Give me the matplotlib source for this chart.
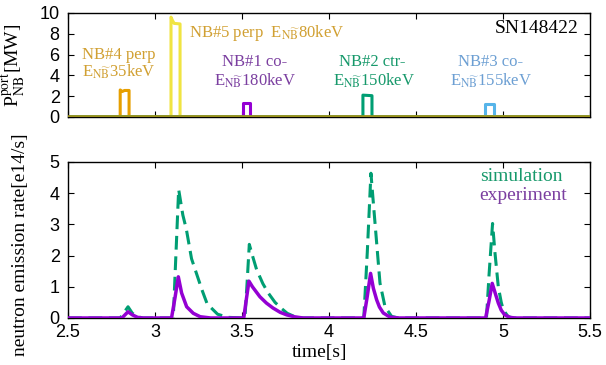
import numpy as np
import matplotlib
matplotlib.use("Agg")
import matplotlib.pyplot as plt

plt.rcParams['font.family'] = ['Liberation Serif', 'DejaVu Serif']
plt.rcParams['mathtext.fontset'] = 'stix'

# --- NBI port-through power [MW] (rectangular pulses) ---
nb4_t = [2.5, 2.800, 2.800, 2.812, 2.825, 2.851, 2.851, 5.5]
nb4_p = [0.0, 0.0, 2.60, 2.45, 2.55, 2.55, 0.0, 0.0]
nb5_t = [2.5, 3.092, 3.092, 3.100, 3.110, 3.144, 3.144, 5.5]
nb5_p = [0.0, 0.0, 9.60, 9.30, 9.00, 8.95, 0.0, 0.0]
nb1_t = [2.5, 3.506, 3.506, 3.546, 3.546, 5.5]
nb1_p = [0.0, 0.0, 1.35, 1.35, 0.0, 0.0]
nb2_t = [2.5, 4.195, 4.195, 4.247, 4.247, 5.5]
nb2_p = [0.0, 0.0, 2.10, 2.05, 0.0, 0.0]
nb3_t = [2.5, 4.896, 4.896, 4.948, 4.948, 5.5]
nb3_p = [0.0, 0.0, 1.25, 1.25, 0.0, 0.0]

# --- neutron emission rate [e14/s] ---
sim_t = [2.5, 2.80, 2.845, 2.87, 2.90, 2.93,
         3.105, 3.12, 3.136, 3.16, 3.18, 3.21, 3.24, 3.27, 3.30, 3.36, 3.42,
         3.517, 3.53, 3.542, 3.56, 3.584, 3.62, 3.651, 3.69, 3.728, 3.76, 3.80, 3.85,
         4.20, 4.22, 4.241, 4.255, 4.274, 4.293, 4.322, 4.36, 4.40,
         4.905, 4.92, 4.94, 4.954, 4.973, 4.99, 5.002, 5.03, 5.06, 5.5]
sim_v = [0.0, 0.0, 0.36, 0.15, 0.04, 0.0,
         0.0, 2.0, 4.12, 3.30, 2.85, 1.90, 1.40, 0.90, 0.45, 0.12, 0.02,
         0.0, 1.20, 2.36, 2.00, 1.55, 1.10, 0.80, 0.50, 0.30, 0.15, 0.05, 0.0,
         0.0, 2.10, 4.64, 3.68, 2.40, 1.12, 0.36, 0.05, 0.0,
         0.0, 1.40, 3.03, 2.08, 1.00, 0.50, 0.26, 0.04, 0.0, 0.0]
exp_t = [2.5, 2.81, 2.845, 2.87, 2.90, 2.93,
         3.095, 3.115, 3.134, 3.153, 3.182, 3.22, 3.26, 3.32,
         3.51, 3.525, 3.54, 3.56, 3.603, 3.64, 3.678, 3.72, 3.757, 3.80, 3.85,
         4.20, 4.22, 4.239, 4.255, 4.274, 4.29, 4.312, 4.35, 4.40,
         4.90, 4.92, 4.938, 4.955, 4.973, 4.99, 5.01, 5.04, 5.07, 5.5]
exp_v = [0.0, 0.0, 0.20, 0.10, 0.02, 0.0,
         0.0, 0.65, 1.32, 0.80, 0.36, 0.15, 0.04, 0.0,
         0.0, 0.60, 1.18, 1.00, 0.68, 0.48, 0.32, 0.18, 0.10, 0.04, 0.0,
         0.0, 0.70, 1.43, 0.95, 0.58, 0.35, 0.16, 0.03, 0.0,
         0.0, 0.55, 1.11, 0.80, 0.48, 0.25, 0.10, 0.02, 0.0, 0.0]

xticks = [2.5, 3, 3.5, 4, 4.5, 5, 5.5]
xticklabels = ['2.5', '3', '3.5', '4', '4.5', '5', '5.5']

fig = plt.figure(figsize=(6.06, 3.65), dpi=100)
ax1 = fig.add_axes([0.1122, 0.6795, 0.8614, 0.2849])
ax2 = fig.add_axes([0.1122, 0.1288, 0.8614, 0.4274])

for ax in (ax1, ax2):
    ax.tick_params(direction='in', top=True, right=True, length=4, width=0.8,
                   labelsize=13, labelfontfamily='Liberation Sans')
    ax.set_xlim(2.5, 5.5)
    ax.set_xticks(xticks)
    for s in ax.spines.values():
        s.set_linewidth(1.0)

# top panel : NB power
ax1.plot(nb4_t, nb4_p, color='#e69f00', lw=2.2, zorder=2)
ax1.plot(nb5_t, nb5_p, color='#f0e442', lw=2.2, zorder=2)
ax1.plot(nb1_t, nb1_p, color='#9400d3', lw=2.2, zorder=2)
ax1.plot(nb2_t, nb2_p, color='#009e73', lw=2.2, zorder=2)
ax1.plot(nb3_t, nb3_p, color='#56b4e9', lw=2.2, zorder=2)
ax1.axhline(0, color='#9a8f1c', lw=2.6, zorder=3)
ax1.set_ylim(0, 10)
ax1.set_yticks([0, 2, 4, 6, 8, 10])
ax1.set_xticklabels([])
ax1.tick_params(axis='y', pad=6)
ax1.set_ylabel(r'P$_{\rm NB}^{\rm port}$[MW]', fontsize=14)
ax1.yaxis.set_label_coords(-0.078, 0.5)

ax1.text(2.793, 6.0, 'NB#4 perp', color='#d1a032', fontsize=12, ha='center', va='center')
ax1.text(2.793, 4.3, r'E$_{\rm N\widetilde{B}}$35keV', color='#d1a032', fontsize=12, ha='center', va='center')
ax1.text(3.64, 8.1, r'NB#5 perp  E$_{\rm N\widetilde{B}}$80keV', color='#d1a032', fontsize=12, ha='center', va='center')
ax1.text(3.57, 5.3, 'NB#1 co-', color='#7b3fa0', fontsize=12, ha='center', va='center')
ax1.text(3.575, 3.5, r'E$_{\rm N\widetilde{B}}$180keV', color='#7b3fa0', fontsize=12, ha='center', va='center')
ax1.text(4.25, 5.3, 'NB#2 ctr-', color='#17996b', fontsize=12, ha='center', va='center')
ax1.text(4.26, 3.5, r'E$_{\rm N\widetilde{B}}$150keV', color='#17996b', fontsize=12, ha='center', va='center')
ax1.text(4.93, 5.3, 'NB#3 co-', color='#6c9fd3', fontsize=12, ha='center', va='center')
ax1.text(4.93, 3.5, r'E$_{\rm N\widetilde{B}}$155keV', color='#6c9fd3', fontsize=12, ha='center', va='center')
ax1.text(0.979, 0.85, 'SN148422', transform=ax1.transAxes, fontsize=14, ha='right', va='center')

# bottom panel : neutron emission
ax2.plot(sim_t, sim_v, color='#009e73', lw=2.2, dashes=(4.5, 2.2), zorder=2)
ax2.plot(exp_t, exp_v, color='#9400d3', lw=2.5, zorder=3)
ax2.set_ylim(0, 5)
ax2.set_yticks([0, 1, 2, 3, 4, 5])
ax2.set_xticklabels(xticklabels)
ax2.tick_params(axis='y', pad=6)
ax2.tick_params(axis='x', pad=4)
ax2.set_ylabel('neutron emission rate[e14/s]', fontsize=14)
ax2.yaxis.set_label_coords(-0.075, 0.47)
fig.text(0.528, 0.035, 'time[s]', fontsize=14, ha='center', va='center')

ax2.text(4.866, 4.52, 'simulation', color='#17996b', fontsize=14, ha='left', va='center')
ax2.text(4.866, 3.92, 'experiment', color='#7b3fa0', fontsize=14, ha='left', va='center')

fig.savefig('out.png', dpi=100)
